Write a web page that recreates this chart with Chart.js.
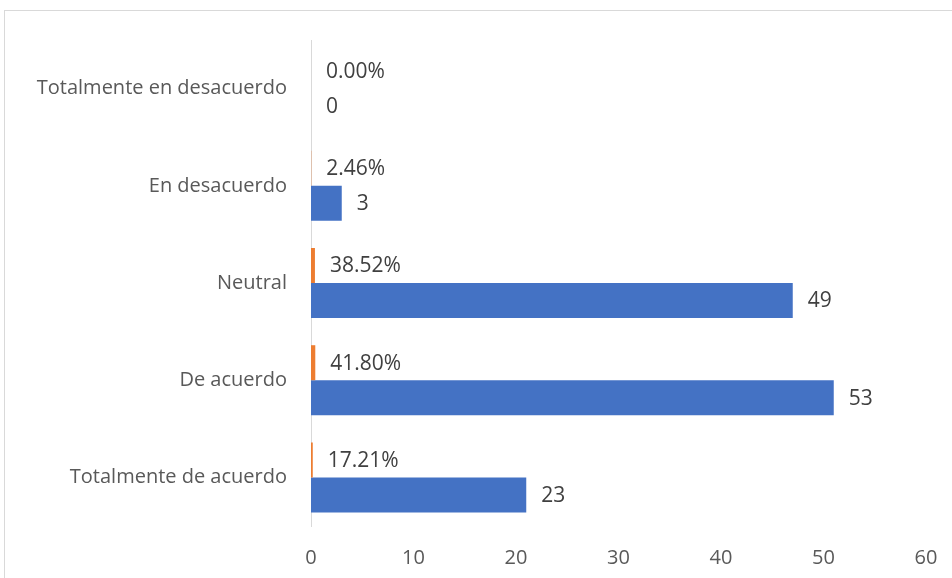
<!DOCTYPE html>
<html>
<head>
<meta charset="utf-8">
<script src="https://cdn.jsdelivr.net/npm/chart.js@4.4.0/dist/chart.umd.min.js"></script>
<style>
  html, body { margin: 0; padding: 0; background: #fff; overflow: hidden; }
  #frame { position: absolute; left: 4px; top: 10px; width: 1000px; height: 1000px; border: 1px solid #d9d9d9; }
  #wrap { position: absolute; left: 0; top: 0; width: 952px; height: 578px; }
</style>
</head>
<body>
<div id="frame"></div>
<div id="wrap"><canvas id="chart"></canvas></div>
<script>
const FONT = 'Open Sans';

// categories, top to bottom
const categories = ['Totalmente en desacuerdo', 'En desacuerdo', 'Neutral', 'De acuerdo', 'Totalmente de acuerdo'];
// bar lengths as drawn
const counts = [0, 3, 47, 51, 21];
// number labels as printed next to the blue bars
const countLabels = ['0', '3', '49', '53', '23'];
// share, as a fraction (printed as percent)
const shares = [0, 0.0246, 0.3852, 0.4180, 0.1721];
const xTicksMax = 60;

const barLabels = {
    id: 'barLabels',
    afterDatasetsDraw(chart) {
        const ctx = chart.ctx;
        ctx.save();
        ctx.font = '21px "' + FONT + '"';
        ctx.fillStyle = '#404040';
        ctx.textAlign = 'left';
        ctx.textBaseline = 'middle';
        chart.data.datasets.forEach((ds, i) => {
            const meta = chart.getDatasetMeta(i);
            meta.data.forEach((bar, j) => {
                const text = i === 0 ? (ds.data[j] * 100).toFixed(2) + '%' : countLabels[j];
                ctx.fillText(text, bar.x + 15, bar.y + 1);
            });
        });
        ctx.restore();
    }
};

new Chart(document.getElementById('chart'), {
    type: 'bar',
    data: {
        labels: categories,
        datasets: [
            {
                label: 'Porcentaje',
                data: shares,
                backgroundColor: '#ED7D31',
                categoryPercentage: 0.72,
                barPercentage: 1
            },
            {
                label: 'Frecuencia',
                data: counts,
                backgroundColor: '#4472C4',
                categoryPercentage: 0.72,
                barPercentage: 1
            }
        ]
    },
    options: {
        indexAxis: 'y',
        responsive: true,
        maintainAspectRatio: false,
        animation: false,
        layout: { padding: { top: 40, right: 26, left: 0, bottom: 0 } },
        scales: {
            x: {
                min: 0,
                max: xTicksMax,
                ticks: { stepSize: 10, color: '#595959', font: { family: FONT, size: 20 }, padding: 12 },
                grid: { display: false },
                border: { display: false },
                afterFit: (scale) => { scale.height = 52; }
            },
            y: {
                ticks: { color: '#595959', font: { family: FONT, size: 20 }, padding: 16 },
                grid: { display: false },
                border: { display: true, color: '#d9d9d9', width: 1 },
                afterFit: (scale) => { scale.width = 311; }
            }
        },
        plugins: {
            legend: { display: false },
            tooltip: { enabled: false }
        }
    },
    plugins: [barLabels]
});
</script>
</body>
</html>
